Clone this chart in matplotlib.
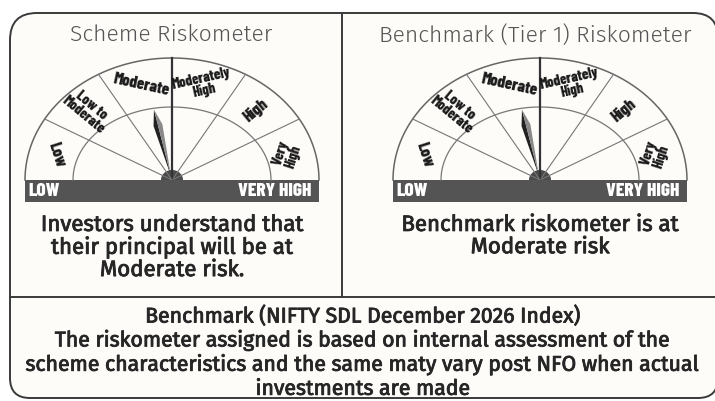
import matplotlib.pyplot as plt
import numpy as np
import matplotlib.patheffects as pe
from matplotlib.path import Path
from matplotlib.patches import PathPatch, Polygon, Rectangle

# data
segments = ["Low", "Low to\nModerate", "Moderate", "Moderately\nHigh", "High", "Very\nHigh"]
panel_titles = ["Scheme Riskometer", "Benchmark (Tier 1) Riskometer"]
needle_level = [2, 2]  # index into segments -> Moderate
panel_notes = ["Investors understand that\ntheir principal will be at\nModerate risk.",
               "Benchmark riskometer is at\nModerate risk"]
bar_labels = ["LOW", "VERY HIGH"]
footer = ["Benchmark (NIFTY SDL December 2026 Index)",
          "The riskometer assigned is based on internal assessment of the",
          "scheme characteristics and the same maty vary post NFO when actual",
          "investments are made"]

W, H = 715, 401
fig = plt.figure(figsize=(W / 100, H / 100), dpi=100)
ax = fig.add_axes([0, 0, 1, 1])
ax.set_xlim(0, W)
ax.set_ylim(H, 0)
ax.axis("off")

COND = ["Barlow Condensed", "DejaVu Sans"]
BODY = ["Fira Sans", "DejaVu Sans"]
medium = [pe.withStroke(linewidth=0.6, foreground="#262626")]

# outer frame with rounded corners
verts = [(10, 40), (10, 13), (37, 13), (693, 13), (718, 13), (718, 38),
         (718, 378), (718, 398), (698, 398), (30, 398), (10, 398), (10, 378), (10, 40)]
codes = [Path.MOVETO, Path.CURVE3, Path.CURVE3, Path.LINETO, Path.CURVE3, Path.CURVE3,
         Path.LINETO, Path.CURVE3, Path.CURVE3, Path.LINETO, Path.CURVE3, Path.CURVE3, Path.CLOSEPOLY]
ax.add_patch(PathPatch(Path(verts, codes), facecolor="#fdfcf9", edgecolor="#3a3a3a", lw=1.4))
ax.plot([342, 342], [13, 297], color="#3a3a3a", lw=1.4)
ax.plot([10, 718], [297, 297], color="#3a3a3a", lw=1.4)


def gauge(cx, cy, title, tx, level, note):
    rx, ry = 147, 122
    rxi, ryi = 99, 73
    t = np.linspace(0, np.pi, 300)
    ax.plot(cx + rx * np.cos(t), cy - ry * np.sin(t), color="#666", lw=1.1)
    ax.plot(cx + rxi * np.cos(t), cy - ryi * np.sin(t), color="#777", lw=0.9)
    for k in range(1, 6):
        a = np.radians(30 * k)
        lw, col = (1.6, "#333") if k == 3 else (0.8, "#777")
        ax.plot([cx, cx + rx * np.cos(a)], [cy, cy - ry * np.sin(a)], color=col, lw=lw)
    for k, lab in enumerate(segments):
        a = np.radians(180 - 30 * k - 15)
        x = cx + 0.81 * rx * np.cos(a)
        y = cy - 0.81 * ry * np.sin(a)
        rot = np.degrees(np.arctan2(ry * np.cos(a), rx * np.sin(a)))
        size = 12 if "\n" not in lab else 10.5
        ax.text(x, y, lab, rotation=rot, rotation_mode="anchor", ha="center", va="center",
                fontsize=size, family=COND, fontweight=800, color="#1a1a1a",
                linespacing=0.85)
    # needle
    a = np.radians(180 - 30 * (level + 0.6))
    ux, uy = np.cos(a), -np.sin(a)
    px, py = np.sin(a), np.cos(a)
    tip = (cx + 0.59 * rx * ux, cy + 0.59 * ry * uy)
    mid = (cx + 0.46 * rx * ux, cy + 0.46 * ry * uy)
    base = (cx + 0.03 * rx * ux, cy + 0.03 * ry * uy)
    left = (mid[0] - 4.5 * px, mid[1] - 4.5 * py)
    right = (mid[0] + 4.5 * px, mid[1] + 4.5 * py)
    ax.add_patch(Polygon([base, left, tip], closed=True, facecolor="#222", edgecolor="none"))
    ax.add_patch(Polygon([base, right, tip], closed=True, facecolor="#8a8a8a", edgecolor="none"))
    # hub
    th = np.linspace(0, np.pi, 60)
    ax.add_patch(Polygon(np.column_stack([cx + 11 * np.cos(th), cy - 10 * np.sin(th)]),
                         closed=True, facecolor="#4a4a4a", edgecolor="none"))
    # bar
    ax.add_patch(Rectangle((cx - 147, cy), 294, 22, facecolor="#545454", edgecolor="none"))
    ax.text(cx - 144, cy + 11.5, bar_labels[0], ha="left", va="center", color="white",
            fontsize=14, family=COND, fontweight=800)
    ax.text(cx + 139, cy + 11.5, bar_labels[1], ha="right", va="center", color="white",
            fontsize=14, family=COND, fontweight=800)
    ax.text(tx, 35, title, ha="center", va="center", fontsize=16.5, family=BODY,
            fontweight=300, color="#555")
    ax.text(cx, 214, note, ha="center", va="top", fontsize=16, family=BODY,
            fontweight=400, color="#262626", linespacing=1.05, path_effects=medium)


gauge(172, 180, panel_titles[0], 171, needle_level[0], panel_notes[0])
gauge(540, 180, panel_titles[1], 535, needle_level[1], panel_notes[1])

for i, line in enumerate(footer):
    ax.text(363, 316 + 24.2 * i, line, ha="center", va="center", fontsize=15.3,
            family=BODY, fontweight=400, color="#262626", path_effects=medium)

fig.savefig("out.png", dpi=100, facecolor="white")
